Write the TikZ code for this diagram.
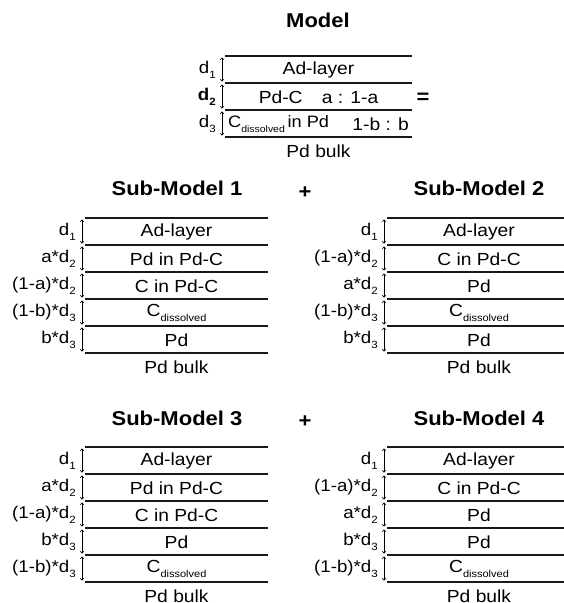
\documentclass[tikz,border=0pt]{standalone}
\usepackage{fontspec}
\setmainfont{Liberation Sans}[FakeStretch=1.1]
\usetikzlibrary{arrows.meta}
\tikzset{
  layerline/.style={line width=1.3pt, black!90},
  thkarrow/.style={line width=0.6pt, {To[length=2.5pt,width=4pt]}-{To[length=2.5pt,width=4pt]}},
  lbl/.style={inner sep=0pt, font=\fontsize{17}{19}\selectfont},
  txt/.style={inner sep=0pt, font=\fontsize{17.5}{19}\selectfont},
  ttl/.style={inner sep=0pt, font=\fontsize{20}{22}\selectfont\bfseries},
}
\newcommand\mysub[1]{\raisebox{-0.28em}{\fontsize{10.5}{12}\selectfont #1}}
\newcommand\mylayer[6]{%
  \coordinate (#1tl) at (#2,#4);
  \coordinate (#1tr) at (#3,#4);
  \draw[layerline] (#1tl) -- (#1tr);
  \coordinate (#1at) at (#2-3,#4+1.5);
  \coordinate (#1ab) at (#2-3,#4+25.5);
  \draw[thkarrow] (#1at) -- (#1ab);
  \node[lbl, anchor=east] (#1lab) at (#2-9,#4+14) {#5};
  \node[txt] (#1txt) at ({(#2+#3)/2},#4+14) {#6};
}
\newcommand\mybottom[5]{%
  \coordinate (#1bl) at (#2,#4);
  \coordinate (#1br) at (#3,#4);
  \draw[layerline] (#1bl) -- (#1br);
  \node[txt] (#1bulk) at ({(#2+#3)/2},#4+14.5) {#5};
}
\newcommand\cdis{C\raisebox{-0.3em}{\fontsize{10}{12}\selectfont dissolved}}
\begin{document}
\begin{tikzpicture}[x=1pt,y=-1pt]
\useasboundingbox (0,0) rectangle (563,603);
% Model
\node[ttl] (mtitle) at (318,20) {Model};
\mylayer{ma}{225}{412}{56}{d\mysub{1}}{Ad-layer}
\mylayer{mb}{225}{412}{83}{\textbf{d\mysub{2}}}{Pd-C\hspace{1.1em}a : 1-a}
\coordinate (mctl) at (225,110);
\coordinate (mctr) at (412,110);
\draw[layerline] (mctl) -- (mctr);
\coordinate (mcat) at (222,111.5);
\coordinate (mcab) at (222,135.5);
\draw[thkarrow] (mcat) -- (mcab);
\node[lbl, anchor=east] (mclab) at (216,124) {d\mysub{3}};
\node[txt, anchor=west, font=\fontsize{16.5}{19}\selectfont] (mctxt) at (228,124) {C\raisebox{-0.3em}{\fontsize{9.5}{11}\selectfont dissolved}\,in Pd};
\node[txt, anchor=east] (mcratio) at (409,124) {1-b : b};
\mybottom{m}{225}{412}{137}{Pd bulk}
\node[ttl] (eq) at (423,98) {=};
% Sub-Model 1
\node[ttl] (s1title) at (177,188) {Sub-Model 1};
\mylayer{aa}{85}{268}{218}{d\mysub{1}}{Ad-layer}
\mylayer{ab}{85}{268}{245}{a*d\mysub{2}}{Pd in Pd-C}
\mylayer{ac}{85}{268}{272}{(1-a)*d\mysub{2}}{C in Pd-C}
\mylayer{ad}{85}{268}{299}{(1-b)*d\mysub{3}}{\cdis}
\mylayer{ae}{85}{268}{326}{b*d\mysub{3}}{Pd}
\mybottom{a}{85}{268}{353}{Pd bulk}
% plus
\node[ttl] (plus1) at (305,193) {+};
% Sub-Model 2
\node[ttl] (s2title) at (479,188) {Sub-Model 2};
\mylayer{ba}{387}{571}{218}{d\mysub{1}}{Ad-layer}
\mylayer{bb}{387}{571}{245}{(1-a)*d\mysub{2}}{C in Pd-C}
\mylayer{bc}{387}{571}{272}{a*d\mysub{2}}{Pd}
\mylayer{bd}{387}{571}{299}{(1-b)*d\mysub{3}}{\cdis}
\mylayer{be}{387}{571}{326}{b*d\mysub{3}}{Pd}
\mybottom{b}{387}{571}{353}{Pd bulk}
% Sub-Model 3
\node[ttl] (s3title) at (177,418) {Sub-Model 3};
\mylayer{ca}{85}{268}{447}{d\mysub{1}}{Ad-layer}
\mylayer{cb}{85}{268}{474}{a*d\mysub{2}}{Pd in Pd-C}
\mylayer{cc}{85}{268}{501}{(1-a)*d\mysub{2}}{C in Pd-C}
\mylayer{cd}{85}{268}{528}{b*d\mysub{3}}{Pd}
\mylayer{ce}{85}{268}{555}{(1-b)*d\mysub{3}}{\cdis}
\mybottom{c}{85}{268}{582}{Pd bulk}
% plus
\node[ttl] (plus2) at (305,422) {+};
% Sub-Model 4
\node[ttl] (s4title) at (479,418) {Sub-Model 4};
\mylayer{da}{387}{571}{447}{d\mysub{1}}{Ad-layer}
\mylayer{db}{387}{571}{474}{(1-a)*d\mysub{2}}{C in Pd-C}
\mylayer{dc}{387}{571}{501}{a*d\mysub{2}}{Pd}
\mylayer{dd}{387}{571}{528}{b*d\mysub{3}}{Pd}
\mylayer{de}{387}{571}{555}{(1-b)*d\mysub{3}}{\cdis}
\mybottom{d}{387}{571}{582}{Pd bulk}
\end{tikzpicture}
\end{document}
